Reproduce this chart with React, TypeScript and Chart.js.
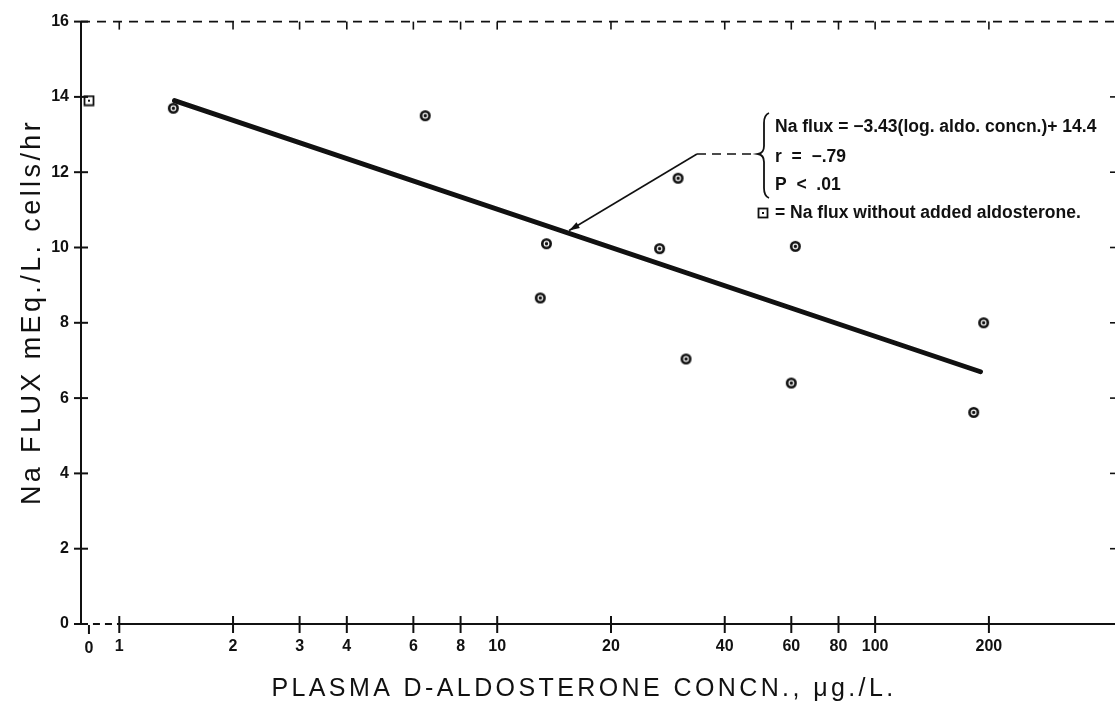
import React, { useEffect, useRef } from 'react';
import { Chart, registerables } from 'chart.js';

Chart.register(...registerables);

// ---- data ----
const xTickValues = [1, 2, 3, 4, 6, 8, 10, 20, 40, 60, 80, 100, 200];
const yTickValues = [0, 2, 4, 6, 8, 10, 12, 14, 16];
const aldoConc = [1.39, 6.45, 13.5, 13.0, 30.1, 26.9, 31.6, 61.5, 60.0, 193.7, 182.3];
const naFlux = [13.7, 13.5, 10.1, 8.66, 11.84, 9.97, 7.04, 10.03, 6.4, 8.0, 5.62];
const baselineConc = [0];
const baselineFlux = [13.9];
const fitConc = [1.4, 190];
const fitFlux = [13.9, 6.7];
const equationLines = ['Na flux = \u22123.43(log. aldo. concn.)+ 14.4', 'r  =  \u2212.79', 'P  <  .01'];
const legendText = '= Na flux without added aldosterone.';
const xTitle = 'PLASMA D-ALDOSTERONE CONCN., \u03bcg./L.';
const yTitle = 'Na FLUX mEq./L. cells/hr';
const zeroLabel = '0';

const INK = '#111';
const TICK_FONT = '"Liberation Sans", Arial, sans-serif';

function makeDotMarker(): HTMLCanvasElement {
  const c = document.createElement('canvas');
  c.width = 13;
  c.height = 13;
  const g = c.getContext('2d')!;
  g.fillStyle = INK;
  g.beginPath();
  g.arc(6.5, 6.5, 5.5, 0, Math.PI * 2);
  g.fill();
  g.strokeStyle = '#fff';
  g.lineWidth = 1.2;
  g.beginPath();
  g.arc(6.5, 6.5, 2.3, 0, Math.PI * 2);
  g.stroke();
  return c;
}

function makeSquareMarker(): HTMLCanvasElement {
  const c = document.createElement('canvas');
  c.width = 12;
  c.height = 12;
  const g = c.getContext('2d')!;
  g.fillStyle = '#fff';
  g.fillRect(0, 0, 12, 12);
  g.strokeStyle = INK;
  g.lineWidth = 1.8;
  g.strokeRect(1.5, 1.5, 9, 9);
  g.fillStyle = INK;
  g.fillRect(5, 5, 2, 2);
  return c;
}

export default function App() {
  const ref = useRef<HTMLCanvasElement | null>(null);

  useEffect(() => {
    const canvas = ref.current;
    if (!canvas) return;
    const dot = makeDotMarker();
    const sq = makeSquareMarker();

    const decor = {
      id: 'decor',
      afterDraw(chart: any) {
        const { ctx, chartArea } = chart;
        const xs = chart.scales.x;
        const x0s = chart.scales.x0;
        const ys = chart.scales.y;
        const { left, top, bottom } = chartArea;
        const right = chart.width;
        ctx.save();
        ctx.strokeStyle = INK;
        ctx.fillStyle = INK;
        ctx.lineCap = 'butt';

        // y axis
        ctx.lineWidth = 2;
        ctx.beginPath();
        ctx.moveTo(left, top);
        ctx.lineTo(left, bottom);
        ctx.stroke();
        for (const v of yTickValues) {
          const py = ys.getPixelForValue(v);
          ctx.beginPath();
          ctx.moveTo(left - 7, py);
          ctx.lineTo(left + 7, py);
          ctx.stroke();
        }
        // right side inward ticks (cut by the picture edge)
        ctx.lineWidth = 1.6;
        for (const v of yTickValues) {
          if (v === 0 || v === 16) continue;
          const py = ys.getPixelForValue(v);
          ctx.beginPath();
          ctx.moveTo(right - 5, py);
          ctx.lineTo(right, py);
          ctx.stroke();
        }

        // x axis: dashed break between 0 and 1, solid afterwards
        const p1 = xs.getPixelForValue(1);
        const pz = x0s.getPixelForValue(0);
        ctx.lineWidth = 2;
        ctx.setLineDash([7, 5]);
        ctx.beginPath();
        ctx.moveTo(pz + 4, bottom);
        ctx.lineTo(p1, bottom);
        ctx.stroke();
        ctx.setLineDash([]);
        ctx.beginPath();
        ctx.moveTo(p1, bottom);
        ctx.lineTo(right, bottom);
        ctx.stroke();
        for (const v of xTickValues) {
          const px = xs.getPixelForValue(v);
          ctx.beginPath();
          ctx.moveTo(px, bottom - 8);
          ctx.lineTo(px, bottom + 9);
          ctx.stroke();
        }
        ctx.beginPath();
        ctx.moveTo(pz, bottom + 1);
        ctx.lineTo(pz, bottom + 10);
        ctx.stroke();
        ctx.font = `bold 16px ${TICK_FONT}`;
        ctx.textAlign = 'center';
        ctx.textBaseline = 'alphabetic';
        ctx.fillText(zeroLabel, pz, bottom + 29);

        // top border: dashed with downward ticks
        ctx.lineWidth = 1.6;
        ctx.setLineDash([9, 7]);
        ctx.beginPath();
        ctx.moveTo(left, top);
        ctx.lineTo(right, top);
        ctx.stroke();
        ctx.setLineDash([]);
        for (const v of xTickValues) {
          const px = xs.getPixelForValue(v);
          ctx.beginPath();
          ctx.moveTo(px, top);
          ctx.lineTo(px, top + 8);
          ctx.stroke();
        }

        // axis titles
        ctx.font = `27px "Liberation Sans", Arial, sans-serif`;
        (ctx as any).letterSpacing = '3.4px';
        ctx.textAlign = 'center';
        ctx.textBaseline = 'middle';
        ctx.save();
        ctx.translate(33, 312);
        ctx.rotate(-Math.PI / 2);
        ctx.fillText(yTitle, 0, 0);
        ctx.restore();
        ctx.font = `25px "Liberation Sans", Arial, sans-serif`;
        (ctx as any).letterSpacing = '3.4px';
        ctx.fillText(xTitle, 584, 689);
        (ctx as any).letterSpacing = '0px';

        // annotation: arrow from fit line to equation block
        const tipX = xs.getPixelForValue(15.5);
        const tipY = ys.getPixelForValue(10.45);
        const elbowX = 697;
        const elbowY = 154;
        ctx.lineWidth = 1.6;
        ctx.beginPath();
        ctx.moveTo(elbowX, elbowY);
        ctx.lineTo(tipX, tipY);
        ctx.stroke();
        const ang = Math.atan2(tipY - elbowY, tipX - elbowX);
        ctx.beginPath();
        ctx.moveTo(tipX, tipY);
        ctx.lineTo(tipX - 11 * Math.cos(ang - 0.3), tipY - 11 * Math.sin(ang - 0.3));
        ctx.lineTo(tipX - 11 * Math.cos(ang + 0.3), tipY - 11 * Math.sin(ang + 0.3));
        ctx.closePath();
        ctx.fill();
        ctx.setLineDash([9, 6]);
        ctx.beginPath();
        ctx.moveTo(elbowX, elbowY);
        ctx.lineTo(757, elbowY);
        ctx.stroke();
        ctx.setLineDash([]);

        // brace
        const bx = 762;
        const bTop = 113;
        const bBot = 198;
        const bMid = elbowY;
        ctx.lineWidth = 1.8;
        ctx.beginPath();
        ctx.moveTo(bx + 7, bTop);
        ctx.quadraticCurveTo(bx + 2, bTop + 2, bx + 2, bTop + 10);
        ctx.lineTo(bx + 2, bMid - 8);
        ctx.quadraticCurveTo(bx + 2, bMid - 1, bx - 4, bMid);
        ctx.quadraticCurveTo(bx + 2, bMid + 1, bx + 2, bMid + 8);
        ctx.lineTo(bx + 2, bBot - 10);
        ctx.quadraticCurveTo(bx + 2, bBot - 2, bx + 7, bBot);
        ctx.stroke();

        // equation text
        ctx.font = `bold 17.5px "Liberation Sans", Arial, sans-serif`;
        ctx.textAlign = 'left';
        ctx.textBaseline = 'middle';
        const lineY = [127, 157, 185];
        equationLines.forEach((t, i) => ctx.fillText(t, 775, lineY[i]));

        // legend for the square symbol
        ctx.drawImage(sq, 757, 207);
        ctx.fillText(legendText, 775, 213);

        ctx.restore();
      },
    };

    const chart = new Chart(canvas, {
      type: 'scatter',
      data: {
        datasets: [
          {
            type: 'line',
            label: 'fit',
            data: fitConc.map((x, i) => ({ x, y: fitFlux[i] })),
            borderColor: INK,
            borderWidth: 5,
            borderCapStyle: 'round',
            pointRadius: 0,
            xAxisID: 'x',
            yAxisID: 'y',
            order: 2,
          } as any,
          {
            label: 'Na flux',
            data: aldoConc.map((x, i) => ({ x, y: naFlux[i] })),
            pointStyle: dot,
            pointRadius: 6,
            xAxisID: 'x',
            yAxisID: 'y',
            order: 1,
          } as any,
          {
            label: 'without aldosterone',
            data: baselineConc.map((x, i) => ({ x, y: baselineFlux[i] })),
            pointStyle: sq,
            pointRadius: 6,
            xAxisID: 'x0',
            yAxisID: 'y',
            order: 1,
          } as any,
        ],
      },
      options: {
        animation: false,
        responsive: true,
        maintainAspectRatio: false,
        layout: { padding: { top: 15, left: 0, right: 0, bottom: 0 } },
        plugins: { legend: { display: false }, tooltip: { enabled: false } },
        scales: {
          x: {
            type: 'logarithmic',
            position: 'bottom',
            min: 0.792,
            max: 413.2,
            grid: { display: false, drawTicks: false },
            border: { display: false },
            afterBuildTicks: (s: any) => {
              s.ticks = xTickValues.map((v) => ({ value: v }));
            },
            afterFit: (s: any) => {
              s.height = 85;
            },
            ticks: {
              autoSkip: false,
              maxRotation: 0,
              padding: 13,
              color: INK,
              font: { family: TICK_FONT, size: 16, weight: 'bold' },
              callback: (v: any) => String(v),
            },
          },
          x0: {
            type: 'linear',
            display: false,
            min: -1,
            max: 128.25,
          },
          y: {
            type: 'linear',
            position: 'left',
            min: 0,
            max: 16,
            grid: { display: false, drawTicks: false },
            border: { display: false },
            afterBuildTicks: (s: any) => {
              s.ticks = yTickValues.map((v) => ({ value: v }));
            },
            afterFit: (s: any) => {
              s.width = 81;
            },
            ticks: {
              padding: 12,
              color: INK,
              font: { family: TICK_FONT, size: 16, weight: 'bold' },
              callback: (v: any) => String(v),
            },
          },
        },
      } as any,
      plugins: [decor],
    });

    return () => chart.destroy();
  }, []);

  return (
    <div style={{ position: 'absolute', left: 0, top: 0, width: 1115, height: 709, background: '#fff' }}>
      <canvas ref={ref} />
    </div>
  );
}
